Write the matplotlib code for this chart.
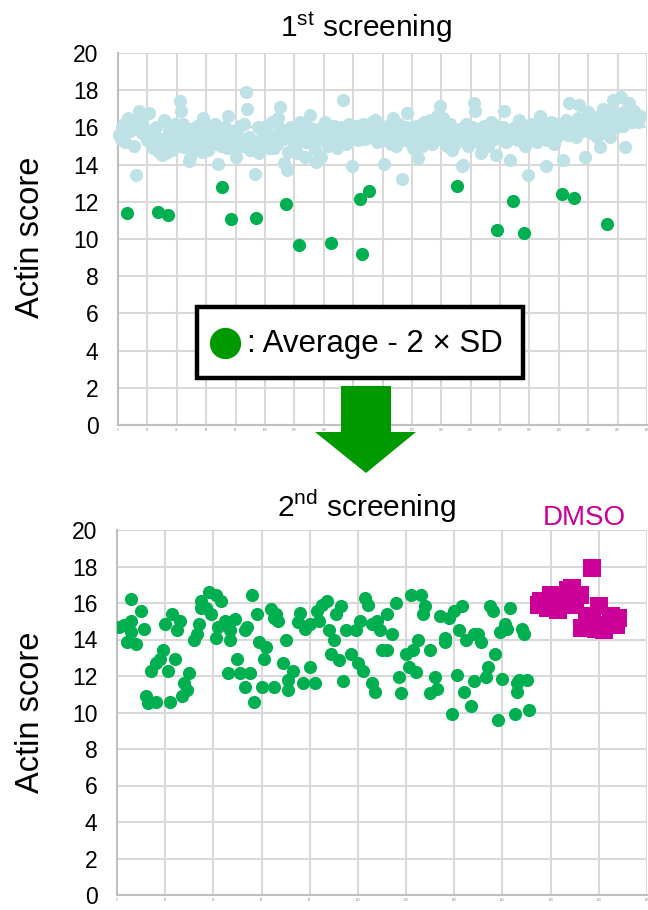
import matplotlib
matplotlib.use("Agg")
import matplotlib.pyplot as plt
from matplotlib.patches import Polygon, Rectangle
from matplotlib.lines import Line2D

plt.rcParams['font.family'] = ['Liberation Sans', 'DejaVu Sans']
plt.rcParams['mathtext.fontset'] = 'custom'
plt.rcParams['mathtext.rm'] = 'Liberation Sans'

# ---------------- data ----------------
# 1st screening: Actin score of compounds 1..N (in order)
score_1st = [
    15.6, 15.4, 16.0, 16.2, 15.2, 11.4, 16.5, 15.8, 15.85, 16.3,
    15.0, 13.45, 15.9, 16.9, 16.4, 15.7, 16.1, 16.6, 15.5, 15.3,
    16.75, 15.2, 15.8, 14.9, 15.5, 16.0, 11.45, 14.7, 15.4, 14.5,
    16.4, 15.1, 14.6, 11.3, 15.8, 15.3, 14.8, 16.0, 16.2, 15.6,
    15.0, 17.4, 16.9, 16.2, 14.95, 15.7, 15.2, 14.2, 14.35, 15.9,
    15.3, 15.6, 14.8, 16.1, 15.4, 15.0, 14.7, 16.5, 15.5, 15.9,
    14.8, 15.2, 16.0, 15.6, 15.1, 16.2, 15.4, 14.05, 15.7, 15.0,
    12.8, 15.5, 16.0, 14.9, 16.6, 15.3, 11.1, 15.8, 15.2, 14.4,
    15.6, 14.95, 16.1, 15.4, 15.0, 16.2, 17.9, 17.0, 15.5, 14.8,
    15.3, 14.8, 13.5, 11.15, 16.0, 14.6, 15.2, 15.8, 15.0, 15.7,
    16.1, 15.3, 14.9, 15.5, 16.3, 14.9, 15.6, 15.1, 16.5, 17.1,
    15.9, 15.4, 14.1, 11.9, 13.7, 14.7, 15.6, 16.0, 15.2, 15.8,
    15.0, 14.6, 9.7, 16.3, 15.5, 15.8, 14.4, 15.2, 16.0, 15.6,
    16.65, 15.1, 15.9, 14.8, 14.15, 15.3, 15.7, 14.4, 16.0, 15.4,
    16.3, 15.6, 15.0, 15.9, 9.8, 15.2, 16.1, 15.5, 14.9, 15.7,
    15.3, 16.0, 17.5, 15.6, 15.1, 15.8, 16.2, 15.4, 13.9, 15.5,
    15.9, 16.1, 15.3, 15.7, 12.15, 9.2, 16.2, 15.4, 15.9, 15.6,
    12.6, 15.8, 16.3, 15.5, 16.4, 15.2, 15.9, 16.0, 15.4, 15.7,
    14.05, 15.3, 16.1, 15.6, 15.9, 15.1, 16.5, 15.5, 15.0, 15.8,
    16.2, 15.4, 13.2, 15.7, 15.3, 16.0, 16.75, 15.6, 15.2, 15.9,
    14.9, 15.5, 16.1, 14.35, 15.8, 15.3, 15.0, 16.3, 15.6, 15.2,
    15.9, 16.4, 15.5, 15.1, 16.0, 15.7, 16.6, 15.4, 17.15, 15.8,
    16.5, 15.3, 15.9, 15.0, 15.6, 16.2, 14.8, 15.5, 15.1, 15.7,
    12.85, 15.3, 15.9, 13.9, 14.0, 15.6, 16.2, 15.0, 15.8, 15.4,
    16.0, 17.3, 16.9, 15.5, 15.2, 15.9, 14.6, 15.7, 16.1, 15.3,
    15.8, 15.0, 15.6, 16.3, 16.2, 15.4, 14.5, 10.5, 15.9, 15.5,
    15.8, 16.0, 16.9, 15.2, 15.7, 15.4, 14.25, 15.9, 12.05, 15.6,
    16.1, 15.3, 16.4, 15.8, 15.5, 10.3, 15.0, 15.9, 13.45, 15.6,
    16.2, 15.4, 15.8, 16.0, 15.2, 15.7, 16.6, 15.5, 16.1, 15.9,
    13.9, 15.3, 16.0, 15.6, 16.3, 15.8, 15.1, 16.2, 15.5, 15.9,
    16.1, 12.4, 14.25, 15.7, 16.4, 15.6, 17.3, 16.0, 15.8, 12.2,
    16.2, 15.5, 16.5, 17.2, 16.0, 15.8, 16.3, 14.4, 15.9, 16.85,
    16.1, 15.7, 16.4, 15.9, 16.2, 15.5, 16.6, 14.95, 16.0, 17.0,
    16.3, 15.8, 10.8, 16.5, 15.5, 16.9, 17.45, 16.2, 16.0, 16.7,
    16.4, 17.65, 16.8, 16.1, 14.95, 16.6, 17.1, 17.3, 16.75, 16.3,
    16.9, 16.5, 16.5, 16.3, 16.6,
]
cutoff_1st = 13.0  # Average - 2 x SD

# 2nd screening: compound number and Actin score
x_2nd = [1, 3, 4, 6, 6, 6, 8, 10, 11, 12, 13, 14, 16, 16, 18, 19, 20, 21, 22, 23,
         24, 25, 26, 27, 28, 29, 30, 32, 33, 34, 35, 35, 37, 38, 39, 41, 41, 43, 42, 45,
         46, 47, 47, 49, 50, 51, 53, 53, 54, 55, 56, 57, 58, 59, 60, 61, 62, 64, 65, 65,
         66, 67, 69, 70, 71, 71, 73, 75, 76, 77, 78, 80, 80, 82, 83, 84, 85, 87, 88, 89,
         90, 91, 92, 93, 94, 95, 97, 99, 100, 101, 102, 103, 104, 106, 106, 107, 108, 109, 110, 112,
         112, 114, 116, 117, 118, 120, 121, 122, 123, 124, 125, 126, 127, 128, 130, 130, 132, 133, 134, 136,
         136, 138, 139, 140, 141, 142, 143, 144, 145, 147, 148, 148, 150, 151, 153, 154, 155, 156, 157, 158,
         159, 160, 161, 162, 163, 165, 166, 166, 167, 168, 169, 170, 171]
score_2nd = [14.66, 14.8, 13.85, 14.4, 16.2, 15.0, 13.75, 15.55, 14.57, 10.9, 10.5, 12.3, 10.6, 12.7, 12.95, 13.4, 14.85, 12.3, 10.6, 15.4,
             12.95, 14.5, 15.0, 10.9, 11.6, 11.25, 12.15, 13.95, 14.3, 14.85, 15.75, 16.1, 15.75, 16.6, 15.4, 14.1, 16.45, 16.1, 14.66, 15.0,
             12.15, 14.5, 13.95, 15.1, 12.95, 12.15, 14.5, 11.4, 14.66, 12.15, 16.45, 10.6, 15.4, 13.85, 11.4, 12.95, 13.6, 15.65, 15.2, 11.4,
             15.4, 15.0, 12.7, 13.95, 11.8, 11.25, 12.3, 14.95, 15.45, 11.6, 14.57, 12.5, 14.85, 11.6, 15.55, 15.0, 15.9, 16.1, 14.5, 13.2,
             13.95, 15.4, 12.85, 15.85, 11.7, 14.5, 13.2, 14.5, 12.7, 15.0, 12.3, 16.3, 15.9, 14.85, 11.6, 11.15, 15.0, 14.5, 13.4, 15.4,
             13.4, 14.3, 16.0, 11.95, 11.05, 13.2, 12.5, 16.45, 13.4, 12.2, 14.0, 16.45, 15.4, 15.85, 11.05, 13.4, 11.95, 11.3, 15.3, 14.1,
             13.85, 15.2, 9.9, 15.55, 12.05, 14.5, 15.85, 11.15, 13.95, 10.35, 14.3, 11.7, 14.3, 13.85, 11.95, 12.5, 15.85, 15.55, 13.2, 9.6,
             14.4, 11.85, 14.85, 14.57, 15.75, 9.9, 11.6, 11.15, 11.8, 14.57, 14.3, 11.8, 10.15]

# DMSO controls
x_dmso = [175, 176, 179, 180, 183, 183, 187, 188, 189, 190, 192, 193, 195, 197, 197, 199, 200, 202, 204, 205, 207, 208]
score_dmso = [15.9, 16.1, 15.75, 16.45, 15.6, 16.1, 16.7, 16.3, 16.8, 15.9, 16.45, 14.65, 15.3, 17.9, 15.1, 14.55, 15.85, 14.5, 14.8, 15.3, 14.8, 15.2]

x_ticks_1st = list(range(0, 361, 20))
x_ticks_2nd = list(range(0, 221, 20))
y_ticks = list(range(0, 21, 2))

# ---------------- styles ----------------
W, H = 648, 910
LIGHT = '#BDE1E5'
GREEN = '#00B050'
DGREEN = '#009A00'
MAG = '#CC0099'
GRID = '#D9D9D9'

fig = plt.figure(figsize=(W / 100, H / 100), dpi=100)


def fx(px):
    return px / W


def fy(py):
    return 1 - py / H


def style_axes(ax, xmax, xticks):
    ax.set_xlim(0, xmax)
    ax.set_ylim(0, 20)
    ax.set_yticks(y_ticks)
    ax.set_xticks(xticks)
    ax.set_xticklabels([str(t) for t in xticks], fontsize=2, color='#808080')
    ax.grid(True, color=GRID, linewidth=1.5, zorder=0)
    ax.set_axisbelow(True)
    for s in ['top', 'right']:
        ax.spines[s].set_visible(False)
    for s in ['left', 'bottom']:
        ax.spines[s].set_color('#BFBFBF')
        ax.spines[s].set_linewidth(1.5)
    ax.tick_params(axis='y', length=0, pad=14, labelsize=16.5)
    ax.tick_params(axis='x', length=0, pad=2)


# ---- top panel ----
ax1 = fig.add_axes([fx(118), fy(425), fx(647) - fx(118), fy(53) - fy(425)])
style_axes(ax1, 360, x_ticks_1st)
idx1 = list(range(1, len(score_1st) + 1))
hx = [i for i, v in zip(idx1, score_1st) if v < cutoff_1st]
hy = [v for v in score_1st if v < cutoff_1st]
lx = [i for i, v in zip(idx1, score_1st) if v >= cutoff_1st]
ly = [v for v in score_1st if v >= cutoff_1st]
ax1.scatter(lx, ly, s=90, color=LIGHT, linewidths=0, zorder=3, clip_on=False)
ax1.scatter(hx, hy, s=90, color=GREEN, linewidths=0, zorder=4, clip_on=False)

# ---- bottom panel ----
ax2 = fig.add_axes([fx(117), fy(895), fx(647) - fx(117), fy(530) - fy(895)])
style_axes(ax2, 220, x_ticks_2nd)
ax2.scatter(x_2nd, score_2nd, s=90, color=GREEN, linewidths=0, zorder=3)
ax2.scatter(x_dmso, score_dmso, s=170, marker='s', color=MAG, linewidths=0, zorder=4)

# ---- texts ----
fig.text(fx(366), fy(37), r'1$^{\rm st}$ screening', ha='center', va='baseline', fontsize=21.5)
fig.text(fx(366), fy(517), r'2$^{\rm nd}$ screening', ha='center', va='baseline', fontsize=21.5)
fig.text(fx(543), fy(525), 'DMSO', ha='left', va='baseline', fontsize=20, color=MAG)
fig.text(fx(31), fy(237), 'Actin score', rotation=90, ha='center', va='center', fontsize=23.5)
fig.text(fx(31), fy(712), 'Actin score', rotation=90, ha='center', va='center', fontsize=23.5)

# ---- legend box ----
def P(px, py):
    return (fx(px), fy(py))

box = Rectangle(P(197, 378), fx(523) - fx(197), fy(307) - fy(378), transform=fig.transFigure,
                facecolor='white', edgecolor='black', linewidth=3.2, zorder=10)
fig.add_artist(box)
fig.add_artist(Line2D([fx(225)], [fy(343)], marker='o', markersize=21.5, color=DGREEN,
                      linestyle='none', transform=fig.transFigure, zorder=11))
fig.text(fx(247), fy(344), ': Average - 2 \u00d7 SD', ha='left', va='center',
         fontsize=22.5, zorder=12)

# ---- arrow ----
arrow = Polygon([P(341, 386), P(391, 386), P(391, 432), P(416, 432), P(366, 473),
                 P(315, 432), P(341, 432)], closed=True, transform=fig.transFigure,
                facecolor=DGREEN, edgecolor='none', zorder=10)
fig.add_artist(arrow)

fig.savefig('out.png', dpi=100)
